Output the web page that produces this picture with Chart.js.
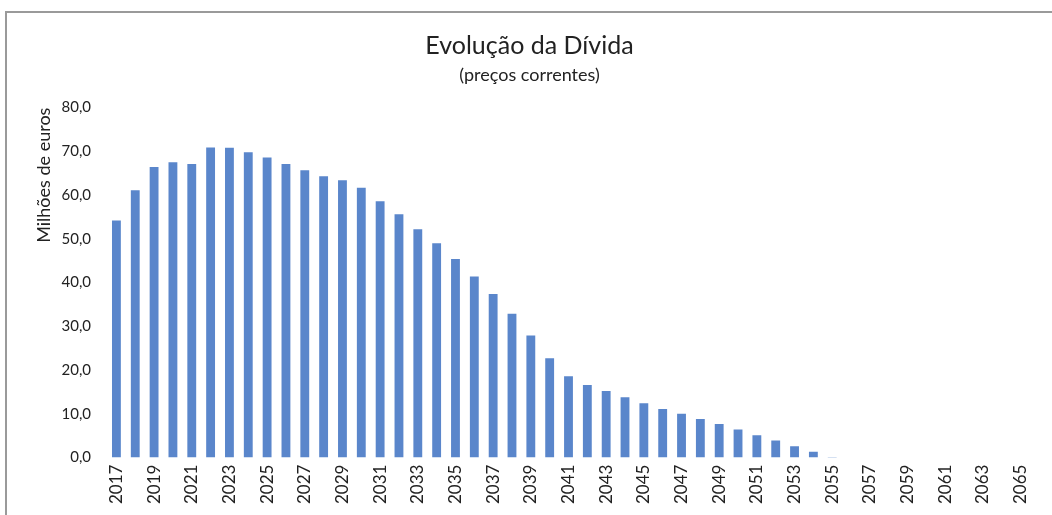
<!DOCTYPE html>
<html>
<head>
<meta charset="utf-8">
<script src="https://cdn.jsdelivr.net/npm/chart.js@4"></script>
<style>
  body { margin: 0; background: #fff; }
  #frame { position: absolute; left: 5px; top: 11px; width: 1047px; height: 504px;
           border-left: 2px solid #9a9a9a; border-top: 2px solid #9a9a9a; }
  #wrap { position: absolute; left: 0; top: 0; width: 1052px; height: 515px; }
</style>
</head>
<body>
<div id="frame"></div>
<div id="wrap"><canvas id="myChart" width="1052" height="515"></canvas></div>
<script>
// anos 2017 - 2065
var anos = []
for (var a = 2017; a <= 2065; a++) anos.push(String(a))

// divida (milhoes de euros)
var divida = [54.2, 61.1, 66.4, 67.5, 67.1, 70.9, 70.8, 69.8, 68.6, 67.1,
              65.7, 64.3, 63.4, 61.7, 58.6, 55.6, 52.2, 49.0, 45.4, 41.4,
              37.4, 32.9, 27.9, 22.7, 18.6, 16.6, 15.2, 13.8, 12.4, 11.1,
              10.0, 8.8, 7.7, 6.4, 5.1, 3.9, 2.6, 1.3, 0.1, 0,
              0, 0, 0, 0, 0, 0, 0, 0, 0]

var yTicks = [0, 10, 20, 30, 40, 50, 60, 70, 80]

var fonte = 'Lato, "Open Sans", sans-serif'

const config = {
    type: 'bar',
    data: {
        labels: anos,
        datasets: [{
            label: 'Dívida',
            data: divida,
            backgroundColor: '#5a86cb',
            categoryPercentage: 1.0,
            barPercentage: 0.47
        }]
    },
    options: {
        responsive: false,
        animation: false,
        layout: { padding: { left: 29, right: 22, top: 0, bottom: 4 } },
        scales: {
            x: {
                grid: { display: false, drawTicks: false },
                border: { display: false },
                ticks: {
                    autoSkip: false,
                    minRotation: 90,
                    maxRotation: 90,
                    padding: 7,
                    color: '#222',
                    font: { family: fonte, size: 17 },
                    callback: function(v, i) { return i % 2 === 0 ? anos[i] : '' }
                }
            },
            y: {
                min: 0,
                max: 80,
                afterBuildTicks: function(axis) { axis.ticks = yTicks.map(v => ({ value: v })) },
                afterFit: function(axis) { axis.width = 78 },
                grid: { display: false, drawTicks: false },
                border: { display: false },
                title: {
                    display: true,
                    text: 'Milhões de euros',
                    align: 'end',
                    color: '#222',
                    font: { family: fonte, size: 18 },
                    padding: { top: 4, bottom: 0 }
                },
                ticks: {
                    padding: 16,
                    color: '#222',
                    font: { family: fonte, size: 15 },
                    callback: function(v) { return v.toFixed(1).replace('.', ',') }
                }
            }
        },
        plugins: {
            legend: { display: false },
            tooltip: { enabled: false },
            title: {
                display: true,
                text: 'Evolução da Dívida',
                color: '#222',
                font: { family: fonte, size: 25, weight: 'normal' },
                padding: { top: 31, bottom: 3 }
            },
            subtitle: {
                display: true,
                text: '(preços correntes)',
                color: '#222',
                font: { family: fonte, size: 18, weight: 'normal' },
                padding: { bottom: 22 }
            }
        }
    }
};

let myChart = new Chart(document.getElementById('myChart'), config);
</script>
</body>
</html>
